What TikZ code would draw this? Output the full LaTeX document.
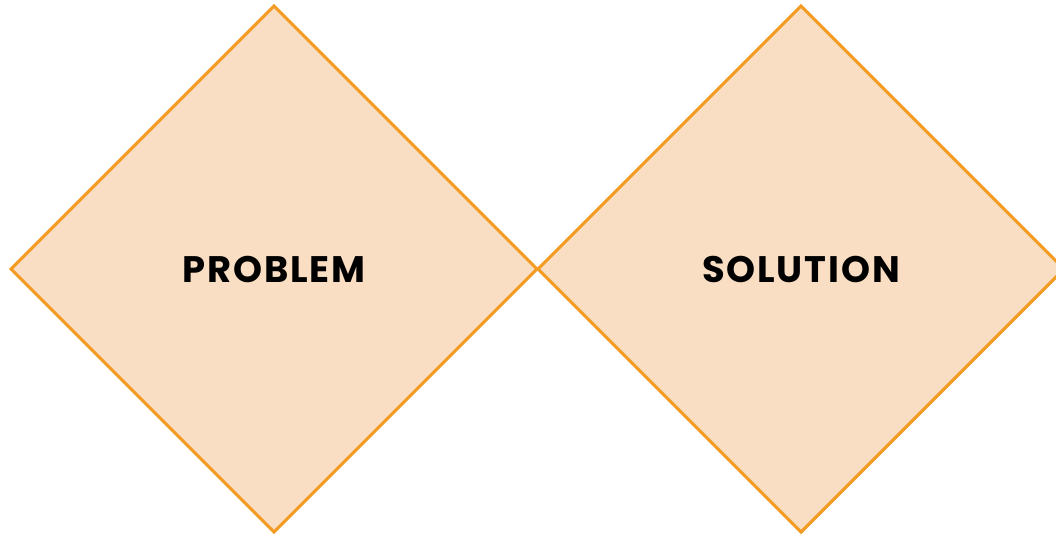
\documentclass[tikz,border=0pt]{standalone}
\usepackage{fontspec}
\setmainfont{Poppins}
\newfontfamily\labelfont[LetterSpace=5]{Poppins}
\usepackage{xcolor}
\usetikzlibrary{positioning,shapes.geometric}
\definecolor{peach}    {HTML}{F9DEC3}
\definecolor{orangeLn} {HTML}{F39B22}

\tikzset{
  square/.style={diamond, aspect=1, fill=peach, draw=orangeLn, line width=0.9pt,
                 minimum size=5.26cm, inner sep=0pt, outer sep=0pt,
                 font=\labelfont\fontsize{10.5}{13}\selectfont\bfseries, text=black}
}

\begin{document}
\begin{tikzpicture}
 \useasboundingbox (0,0) rectangle (10.56,5.36);
 \node[square] (problem)  at (2.74,2.67) {PROBLEM};
 \node[square] (solution) at (8.01,2.67) {SOLUTION};
\end{tikzpicture}
\end{document}
